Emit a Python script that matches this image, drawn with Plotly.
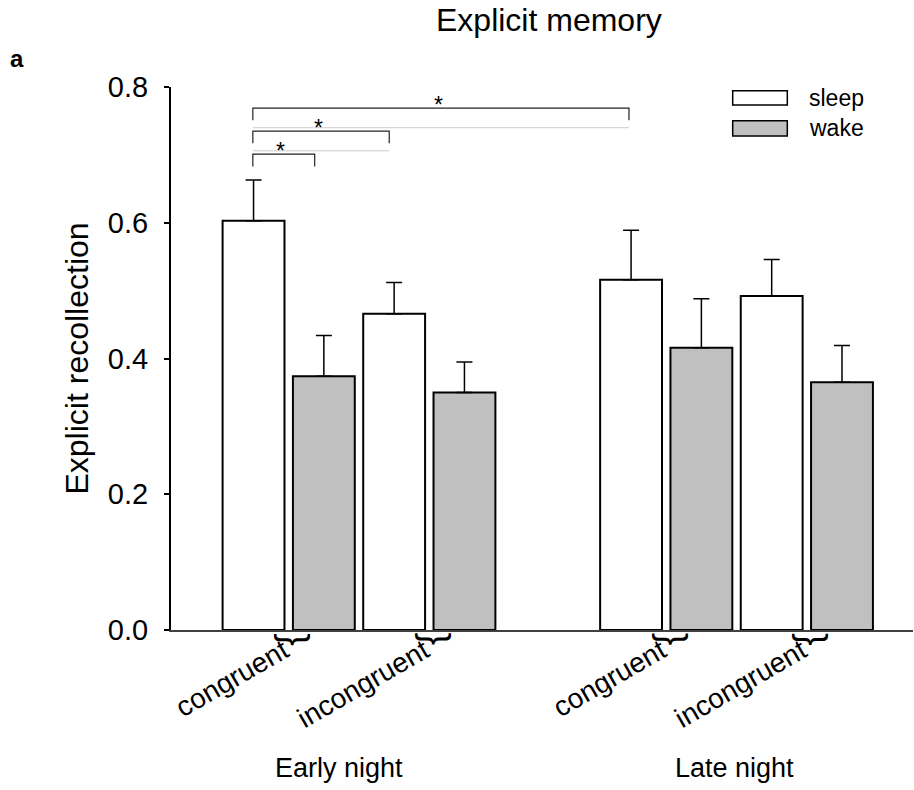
import plotly.graph_objects as go

# ---- data ----
nights = ["Early night", "Late night"]
conditions = ["congruent", "incongruent"]
groups = ["sleep", "wake"]
sleep_mean = [0.603, 0.466, 0.516, 0.492]
sleep_sem = [0.060, 0.046, 0.073, 0.054]
wake_mean = [0.374, 0.350, 0.416, 0.365]
wake_sem = [0.060, 0.045, 0.072, 0.054]
# significance comparisons: ((cell, group), (cell, group))
sig_pairs = [((0, 0), (0, 1)), ((0, 0), (1, 0)), ((0, 0), (2, 0))]
sig_labels = ["*", "*", "*"]

# ---- positions (derived from categories) ----
night_offset = [0.0, 5.37]
def bar_x(cell, grp):
    n, c = divmod(cell, 2)
    return night_offset[n] + c * 2 + grp

cells = list(range(len(sleep_mean)))
x_sleep = [bar_x(i, 0) for i in cells]
x_wake = [bar_x(i, 1) for i in cells]
labels = [conditions[i % 2] for i in cells]
tick_x = [bar_x(i, 0) + 0.5 for i in cells]

FONT = "Liberation Sans, Arial, Helvetica, sans-serif"
fig = go.Figure()
for name, xs, ys, es, col in [("sleep", x_sleep, sleep_mean, sleep_sem, "white"),
                              ("wake", x_wake, wake_mean, wake_sem, "#c0c0c0")]:
    fig.add_trace(go.Bar(
        x=xs, y=ys, name=name, width=0.88,
        marker=dict(color=col, line=dict(color="black", width=2)),
        error_y=dict(type="data", array=es, arrayminus=[0] * len(es), symmetric=False,
                     color="black", thickness=1.5, width=8),
        showlegend=False,
    ))

shapes = []
annotations = []

def txt(x, y, text, size, xref="paper", yref="paper", angle=0, xanchor="center", bold=False):
    annotations.append(dict(x=x, y=y, xref=xref, yref=yref, text=f"<b>{text}</b>" if bold else text,
                            textangle=angle, showarrow=False, xanchor=xanchor, yanchor="middle",
                            font=dict(size=size, color="black", family=FONT)))

# significance brackets
levels = [0.701, 0.735, 0.769]
right_inset = [0.13, 0.07, 0.03]
for k, (a, b) in enumerate(sig_pairs):
    xa = bar_x(a[0], a[1]) - 0.01
    xb = bar_x(b[0], b[1]) - right_inset[k]
    yt = levels[k]
    yd = yt - 0.018
    shapes.append(dict(type="path", xref="x", yref="y",
                       path=f"M {xa},{yd} L {xa},{yt} L {xb},{yt} L {xb},{yd}",
                       line=dict(color="#222222", width=1.2)))
    if k > 0:
        gy = yt - 0.029
        shapes.append(dict(type="line", xref="x", yref="y", x0=xa, x1=xb, y0=gy, y1=gy,
                           line=dict(color="#cccccc", width=1)))
    txt((xa + xb) / 2 - 0.04, yt + 0.005, sig_labels[k], 23, xref="x", yref="y")

# braces below axis
for i in cells:
    txt(bar_x(i, 0) + 0.59, -0.017, "}", 38, xref="x", angle=90)

# night labels
txt(0.2264, -0.254, nights[0], 27)
txt(0.760, -0.254, nights[1], 27)

# y-axis title
txt(-0.128, 0.5, "Explicit recollection", 32, angle=-90)
# title
txt(0.5088, 1.124, "Explicit memory", 32)
# panel letter
txt((16.5 - 171) / 742, (630 - 58) / 543, "a", 24, bold=True)

# legend
leg_y = [(0.9932, 0.9669, 0.980), (0.938, 0.9098, 0.924)]
leg_col = ["white", "#c0c0c0"]
for g, (y0, y1, yc), col in zip(groups, leg_y, leg_col):
    shapes.append(dict(type="rect", xref="paper", yref="paper", x0=0.757, x1=0.8306, y0=y1, y1=y0,
                       fillcolor=col, line=dict(color="black", width=1.5)))
    txt(0.8565, yc, g, 23, xanchor="left")

fig.update_layout(
    width=914, height=790,
    margin=dict(l=171, r=1, t=87, b=160),
    paper_bgcolor="white", plot_bgcolor="white",
    font=dict(family=FONT, color="black"),
    barmode="overlay",
    shapes=shapes, annotations=annotations,
    xaxis=dict(range=[-1.174, 9.38], tickvals=tick_x, ticktext=labels, tickangle=-30,
               tickfont=dict(size=28, color="black", family=FONT), ticks="",
               showline=True, linecolor="#404040", linewidth=1.5,
               showgrid=False, zeroline=False, ticklabelstandoff=-8, ticklabelshift=-5),
    yaxis=dict(range=[0, 0.8], tickvals=[0, 0.2, 0.4, 0.6, 0.8], tickformat=".1f",
               tickfont=dict(size=29, color="black", family=FONT), ticks="outside",
               ticklen=5, tickwidth=1.5, tickcolor="black",
               showline=True, linecolor="black", linewidth=2,
               showgrid=False, zeroline=False, ticklabelstandoff=10),
)

fig.write_html("out.html", config={"displayModeBar": False},
               post_script="document.body.style.margin='0px';")
